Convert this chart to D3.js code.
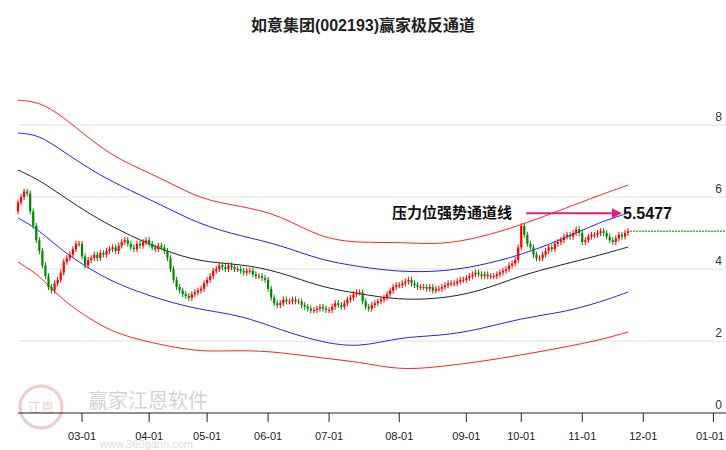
<html>
<head>
<meta charset="utf-8">
<script src="https://d3js.org/d3.v7.min.js"></script>
<style>
  body { margin:0; background:#fff; }
  svg { font-family: "Liberation Sans", "Noto Sans CJK SC", sans-serif; }
</style>
</head>
<body>
<svg class="chart"></svg>
<script>
  // daily closes, one per trading day
  const closes = [
    5.85,6.0,6.15,6.1,5.6,5.2,4.8,4.5,4.1,3.8,
    3.5,3.4,3.6,3.7,3.9,4.2,4.3,4.4,4.55,4.7,
    4.7,4.35,4.1,4.25,4.3,4.4,4.3,4.45,4.4,4.5,
    4.55,4.6,4.5,4.65,4.75,4.8,4.7,4.6,4.55,4.7,
    4.65,4.75,4.8,4.7,4.6,4.55,4.65,4.6,4.5,4.3,
    4.0,3.7,3.5,3.4,3.3,3.25,3.2,3.3,3.35,3.4,
    3.45,3.6,3.7,3.8,3.95,4.0,4.1,4.05,4.0,4.1,
    4.05,4.0,4.0,3.95,3.9,3.95,3.95,3.85,3.8,3.8,
    3.75,3.7,3.45,3.2,3.05,3.0,3.05,3.15,3.1,3.1,
    3.15,3.1,3.1,3.0,2.95,2.9,2.85,2.86,2.9,2.95,
    2.9,2.86,2.86,2.95,3.05,3.0,2.95,3.05,3.15,3.2,
    3.3,3.35,3.35,3.1,2.95,2.9,3.0,3.05,3.1,3.15,
    3.2,3.3,3.4,3.5,3.55,3.55,3.6,3.65,3.7,3.6,
    3.55,3.5,3.5,3.5,3.45,3.5,3.4,3.45,3.45,3.5,
    3.55,3.6,3.6,3.6,3.65,3.7,3.7,3.75,3.8,3.85,
    3.9,3.85,3.8,3.85,3.8,3.8,3.8,3.85,3.9,3.95,
    4.0,4.1,4.15,4.25,4.6,5.2,4.95,4.7,4.6,4.4,
    4.3,4.3,4.4,4.5,4.6,4.55,4.7,4.75,4.8,4.9,
    4.95,4.9,5.0,5.1,5.0,4.75,4.8,4.9,4.95,4.95,
    5.0,5.05,5.0,4.9,4.8,4.75,4.85,4.95,4.9,5.0,
    5.05
  ];
  const firstOpen = 5.6;

  // channel lines sampled at these trading-day indices
  const bandIdx   = [0,7,14,24,33,47,60,73,86,99,112,125,138,151,165,178,191,200];
  const redUpper  = [8.69,8.64,8.28,7.58,7.03,6.53,5.92,5.75,5.5,4.86,4.72,4.75,4.67,4.86,5.22,5.64,6.06,6.33];
  const blueUpper = [7.78,7.72,7.31,6.75,6.33,5.78,5.22,4.92,4.67,4.25,4.06,3.92,3.92,4.08,4.39,4.81,5.31,5.55];
  const middle    = [6.75,6.47,6.06,5.5,5.08,4.53,4.19,4.14,3.92,3.5,3.31,3.14,3.17,3.36,3.83,4.11,4.39,4.61];
  const blueLower = [5.42,5.08,4.53,3.97,3.56,3.14,2.86,2.72,2.31,1.97,1.81,2.11,2.14,2.31,2.64,2.78,3.08,3.36];
  const redLower  = [4.19,3.83,3.17,2.58,2.17,1.89,1.69,1.75,1.69,1.53,1.42,1.19,1.28,1.42,1.61,1.81,2.03,2.25];

  const tickIdx    = [21,43,62,82,102,125,147,165,185,205,228];
  const tickLabels = ['03-01','04-01','05-01','06-01','07-01','08-01','09-01','10-01','11-01','12-01','01-01'];
  const yTicks = [0,2,4,6,8];
  const pressure = 5.5477;

  const width = 726, height = 450;
  const svg = d3.select('.chart').attr('width', width).attr('height', height);

  const x = d3.scaleLinear().domain([0, 200]).range([18, 628]);
  const y = d3.scaleLinear().domain([0, 8]).range([413, 125]);

  // title
  svg.append('text').attr('x', 363).attr('y', 31).attr('text-anchor', 'middle')
    .attr('font-size', 16).attr('font-weight', 'bold').attr('fill', '#222')
    .text('如意集团(002193)赢家极反通道');

  // grid + y labels
  yTicks.forEach(t => {
    if (t > 0) svg.append('line').attr('x1', 18).attr('x2', width).attr('y1', y(t)).attr('y2', y(t))
      .attr('stroke', '#e2e2e2');
    svg.append('text').attr('x', 722).attr('y', y(t) - 4).attr('text-anchor', 'end')
      .attr('font-size', 12).attr('fill', '#333').text(t);
  });

  // watermark
  const wm = svg.append('g').attr('opacity', 0.25);
  wm.append('circle').attr('cx', 41).attr('cy', 407).attr('r', 21).attr('fill', 'none').attr('stroke', '#c33').attr('stroke-width', 3);
  wm.append('text').attr('x', 41).attr('y', 412).attr('text-anchor', 'middle').attr('font-size', 13)
    .attr('fill', '#c33').text('江恩');
  wm.append('text').attr('x', 88).attr('y', 408).attr('font-size', 20).attr('fill', '#555').text('赢家江恩软件');
  wm.append('text').attr('x', 100).attr('y', 448).attr('font-size', 11).attr('fill', '#777').text('www.360gann.com');

  // x axis
  svg.append('line').attr('x1', 18).attr('x2', width).attr('y1', 413).attr('y2', 413).attr('stroke', '#222');
  tickIdx.forEach((t, i) => {
    const last = i === tickIdx.length - 1;
    svg.append('line').attr('x1', x(t)).attr('x2', x(t)).attr('y1', 413).attr('y2', 422).attr('stroke', '#222');
    svg.append('text').attr('x', last ? 724 : x(t)).attr('y', 440).attr('text-anchor', last ? 'end' : 'middle')
      .attr('font-size', 11).attr('fill', '#222').attr('textLength', 28).text(tickLabels[i]);
  });

  // channel lines
  const line = d3.line().x((d, i) => x(bandIdx[i])).y(d => y(d)).curve(d3.curveBasis);
  [[redUpper, '#f22'], [blueUpper, '#22f'], [middle, '#222'], [blueLower, '#22f'], [redLower, '#f22']]
    .forEach(([s, c]) => svg.append('path').attr('d', line(s)).attr('fill', 'none').attr('stroke', c).attr('stroke-width', 1));

  // candles
  const cw = 2.2;
  const candles = svg.append('g');
  closes.forEach((c, i) => {
    const o = i === 0 ? firstOpen : closes[i - 1];
    const up = c >= o;
    const col = up ? '#f00' : '#080';
    const hi = Math.max(o, c), lo = Math.min(o, c);
    candles.append('line').attr('x1', x(i)).attr('x2', x(i))
      .attr('y1', y(hi) - 3).attr('y2', y(lo) + 3).attr('stroke', col);
    candles.append('rect').attr('x', x(i) - cw / 2).attr('width', cw)
      .attr('y', y(hi)).attr('height', Math.max(1, y(lo) - y(hi))).attr('fill', col);
  });

  // last price dotted line
  svg.append('line').attr('x1', x(200) + 2).attr('x2', width).attr('y1', y(closes[200])).attr('y2', y(closes[200]))
    .attr('stroke', '#080').attr('stroke-dasharray', '2,1');

  // annotation
  const ay = y(pressure);
  svg.append('text').attr('x', 392).attr('y', ay + 5).attr('font-size', 15).attr('font-weight', 'bold')
    .attr('fill', '#111').text('压力位强势通道线');
  svg.append('line').attr('x1', 526).attr('x2', 612).attr('y1', ay).attr('y2', ay)
    .attr('stroke', '#e0207a').attr('stroke-width', 2);
  svg.append('path').attr('d', `M612,${ay - 5}L622,${ay}L612,${ay + 5}Z`).attr('fill', '#e0207a');
  svg.append('text').attr('x', 623).attr('y', ay + 6).attr('font-size', 16).attr('font-weight', 'bold')
    .attr('fill', '#111').text(pressure);
</script>
</body>
</html>
